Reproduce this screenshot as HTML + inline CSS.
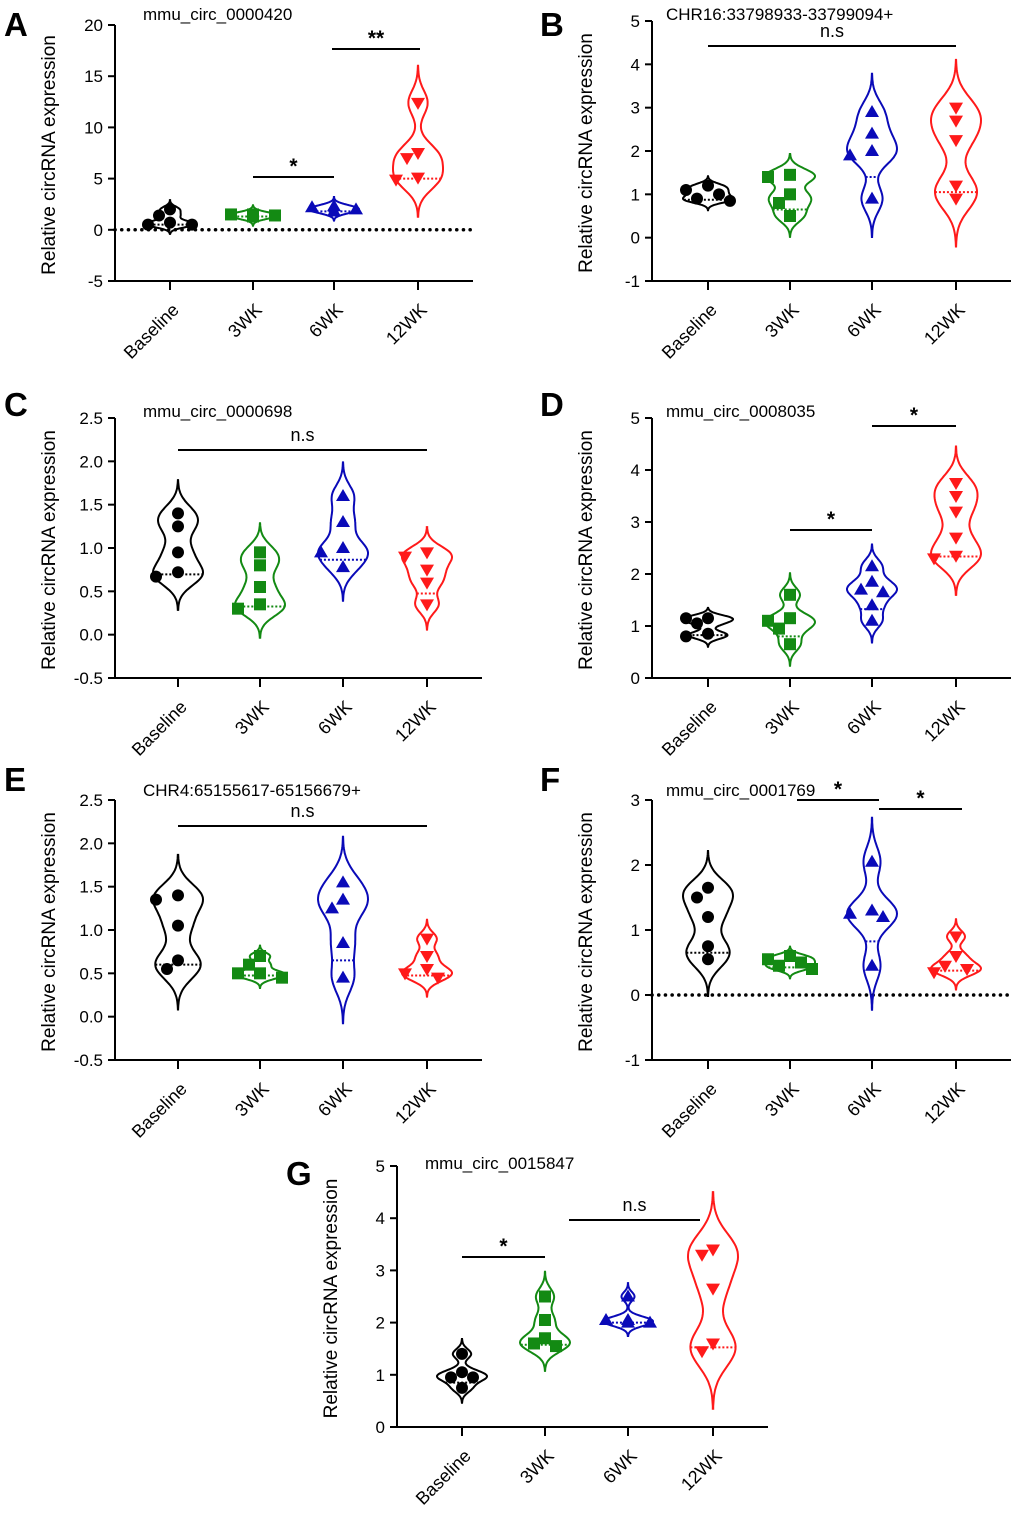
<!DOCTYPE html>
<html><head><meta charset="utf-8"><style>
body{margin:0;background:#fff}
svg text{font-family:"Liberation Sans",Arial,sans-serif}
</style></head><body>
<svg id="fig" width="1020" height="1511" viewBox="0 0 1020 1511" xmlns="http://www.w3.org/2000/svg"></svg>
<script>
const categories=["Baseline","3WK","6WK","12WK"];
const colors=["#000000","#138a13","#0a0ab8","#ff1a1a"];
const markers=["circle","square","up","down"];
const valsA=[[2.0,0.5,1.4,0.5,0.7],[1.3,1.5,1.3,1.4,1.5],[2.0,2.3,1.8,2.2,1.8],[12.4,7.0,7.5,4.9,5.1]];
const valsB=[[1.1,0.85,1.0,1.2,0.9],[1.45,1.0,1.4,0.5,0.8],[2.9,2.4,2.0,1.9,0.9],[3.0,2.7,2.25,1.2,0.9]];
const valsC=[[1.4,1.25,0.95,0.67,0.72],[0.95,0.8,0.55,0.35,0.3],[1.6,1.3,1.0,0.95,0.78],[0.95,0.9,0.75,0.6,0.35]];
const valsD=[[1.15,1.05,0.8,0.85,1.15],[1.6,1.15,0.95,0.65,1.1],[2.15,1.85,1.65,1.4,1.1,1.7],[3.75,3.5,3.2,2.7,2.3,2.35]];
const valsE=[[1.35,1.4,1.05,0.65,0.55],[0.7,0.6,0.5,0.45,0.5],[1.55,1.35,1.25,0.85,0.45],[0.9,0.7,0.55,0.5,0.45]];
const valsF=[[1.65,1.5,1.2,0.75,0.55],[0.6,0.55,0.45,0.4,0.5],[2.05,1.3,1.2,0.45,1.25],[0.9,0.6,0.4,0.35,0.45]];
const valsG=[[1.4,1.05,0.95,0.75,0.95],[2.5,2.05,1.7,1.55,1.6],[2.5,2.05,2.0,2.0,2.05],[3.4,3.3,2.65,1.6,1.45]];
const ticksA=[-5,0,5,10,15,20], ticksB=[-1,0,1,2,3,4,5], ticksC=[-0.5,0.0,0.5,1.0,1.5,2.0,2.5];
const ticksD=[0,1,2,3,4,5], ticksF=[-1,0,1,2,3], ticksG=[0,1,2,3,4,5];
const titles=["mmu_circ_0000420","CHR16:33798933-33799094+","mmu_circ_0000698","mmu_circ_0008035","CHR4:65155617-65156679+","mmu_circ_0001769","mmu_circ_0015847"];

const panels=[
 {L:"A",vals:valsA,ticks:ticksA,dec:0,ax:115,top:25,bot:281,cx:[170,253,334,418],lx:4,ly:36,tx:143,ty:20,zero:true,
  sig:[{a:1,b:2,y:177,t:"*"},{a:2,b:3,y:49,t:"**",x1:332,x2:420}]},
 {L:"B",vals:valsB,ticks:ticksB,dec:0,ax:652,top:21,bot:281,cx:[708,790,872,956],lx:540,ly:36,tx:666,ty:20,
  sig:[{a:0,b:3,y:46,t:"n.s"}]},
 {L:"C",vals:valsC,ticks:ticksC,dec:1,ax:115,top:418,bot:678,cx:[178,260,343,427],lx:4,ly:416,tx:143,ty:417,
  sig:[{a:0,b:3,y:450,t:"n.s"}]},
 {L:"D",vals:valsD,ticks:ticksD,dec:0,ax:652,top:418,bot:678,cx:[708,790,872,956],lx:540,ly:416,tx:666,ty:417,
  sig:[{a:1,b:2,y:530,t:"*"},{a:2,b:3,y:426,t:"*"}]},
 {L:"E",vals:valsE,ticks:ticksC,dec:1,ax:115,top:800,bot:1060,cx:[178,260,343,427],lx:4,ly:791,tx:143,ty:796,
  sig:[{a:0,b:3,y:826,t:"n.s"}]},
 {L:"F",vals:valsF,ticks:ticksF,dec:0,ax:652,top:800,bot:1060,cx:[708,790,872,956],lx:540,ly:791,tx:666,ty:796,zero:true,
  sig:[{a:1,b:2,y:800,t:"*",x1:797,x2:879},{a:2,b:3,y:809,t:"*",x1:879,x2:962}]},
 {L:"G",vals:valsG,ticks:ticksG,dec:0,ax:397,top:1166,bot:1427,cx:[462,545,628,713],lx:286,ly:1185,tx:425,ty:1169,
  sig:[{a:0,b:1,y:1257,t:"*"},{a:1,b:2,y:1220,t:"n.s",x1:569,x2:700}]}
];
const NS="http://www.w3.org/2000/svg";
const svg=document.getElementById("fig");
function mk(tag,attrs,parent){const e=document.createElementNS(NS,tag);for(const k in attrs)e.setAttribute(k,attrs[k]);(parent||svg).appendChild(e);return e;}
function q1(a){const s=[...a].sort((x,y)=>x-y);const n=s.length;const pos=(n+1)/4-1;const lo=Math.max(0,Math.floor(pos)),hi=Math.min(n-1,lo+1);const f=pos-Math.floor(pos);return s[lo]+(s[hi]-s[lo])*f;}

panels.forEach((p,pi)=>{
 const g=mk("g",{});
 
 
 const t0=p.ticks[0],t1=p.ticks[p.ticks.length-1];
 const Y=v=>p.bot-(v-t0)/(t1-t0)*(p.bot-p.top);
 const xEnd=p.cx[3]+55;
 const lt=mk("text",{x:p.lx,y:p.ly,"font-size":33,"font-weight":"bold"},g);lt.textContent=p.L;
 
 
 const tt=mk("text",{x:p.tx,y:p.ty,"font-size":17},g);tt.textContent=titles[pi];
 
 
 const yc=(p.top+p.bot)/2+2, yx=p.ax-60;
 const yt=mk("text",{x:yx,y:yc,"font-size":19,"text-anchor":"middle",transform:`rotate(-90 ${yx} ${yc})`},g);
 yt.textContent="Relative circRNA expression";
 
 
 const ya=mk("line",{x1:p.ax,y1:p.top,x2:p.ax,y2:p.bot,stroke:"#000","stroke-width":2},g);
 
 
 const xa=mk("line",{x1:p.ax,y1:p.bot,x2:xEnd,y2:p.bot,stroke:"#000","stroke-width":2},g);
 
 
 p.ticks.forEach(v=>{
  mk("line",{x1:p.ax-7,y1:Y(v),x2:p.ax,y2:Y(v),stroke:"#000","stroke-width":2},g);
  const tl=mk("text",{x:p.ax-12,y:Y(v)+6,"font-size":17,"text-anchor":"end"},g);
  tl.textContent=v.toFixed(p.dec);
  
  
 });
 categories.forEach((c,i)=>{
  const x=p.cx[i];
  mk("line",{x1:x,y1:p.bot,x2:x,y2:p.bot+9,stroke:"#000","stroke-width":2},g);
  const lx=x+10,ly=p.bot+30;
  const cl=mk("text",{x:lx,y:ly,"font-size":18,"text-anchor":"end",transform:`rotate(-45 ${lx} ${ly})`},g);
  cl.textContent=c;
  
  
 });
 if(p.zero){
  const zl=mk("line",{x1:p.ax,y1:Y(0),x2:xEnd,y2:Y(0),stroke:"#000","stroke-width":3.5,"stroke-dasharray":"0.1 6.6","stroke-linecap":"round"},g);
  
  
 }
 p.vals.forEach((vals,i)=>{
  const col=colors[i],cx=p.cx[i],n=vals.length;
  const mean=vals.reduce((a,b)=>a+b,0)/n;
  const sd=Math.sqrt(vals.reduce((a,b)=>a+(b-mean)**2,0)/(n-1))||0.1;
  const h=Math.max(0.55*sd*Math.pow(n,-0.2),(t1-t0)*0.012);
  const lo=Math.min(...vals)-3*h,hi=Math.max(...vals)+3*h;
  const pts=[];let mx=0;
  for(let k=0;k<=80;k++){const v=lo+(hi-lo)*k/80;let d=0;vals.forEach(x=>d+=Math.exp(-0.5*((v-x)/h)**2));pts.push([v,d]);mx=Math.max(mx,d);}
  const W=25;
  let dstr="";
  pts.forEach(([v,d],k)=>{dstr+=(k?"L":"M")+(cx+d/mx*W).toFixed(1)+","+Y(v).toFixed(1);});
  for(let k=pts.length-1;k>=0;k--){const [v,d]=pts[k];dstr+="L"+(cx-d/mx*W).toFixed(1)+","+Y(v).toFixed(1);}
  const vp=mk("path",{d:dstr+"Z",fill:"none",stroke:col,"stroke-width":2},g);
  
  
  const md=q1(vals);let dm=0;vals.forEach(x=>dm+=Math.exp(-0.5*((md-x)/h)**2));
  const mw=dm/mx*W;
  const ml=mk("line",{x1:cx-mw,y1:Y(md),x2:cx+mw,y2:Y(md),stroke:col,"stroke-width":2,"stroke-dasharray":"2 2"},g);
  
  
  // beeswarm-ish placement
  const placed=[];
  const order=vals.map((v,j)=>j).sort((a,b)=>vals[b]-vals[a]);
  order.forEach(j=>{
   const y=Y(vals[j]);
   const cands=[0,-11,11,-22,22,-33,33];
   let x=cx;
   for(const o of cands){const xx=cx+o;if(placed.every(q=>Math.hypot(q[0]-xx,q[1]-y)>=12)){x=xx;break;}}
   placed.push([x,y]);
   let m;
   if(markers[i]=="circle")m=mk("circle",{cx:x,cy:y,r:6,fill:col},g);
   else if(markers[i]=="square")m=mk("rect",{x:x-6,y:y-6,width:12,height:12,fill:col},g);
   else if(markers[i]=="up")m=mk("polygon",{points:`${x},${y-7} ${x-7},${y+5} ${x+7},${y+5}`,fill:col},g);
   else m=mk("polygon",{points:`${x},${y+7} ${x-7},${y-5} ${x+7},${y-5}`,fill:col},g);
   
   
  });
 });
 p.sig.forEach(s=>{
  const x1=s.x1||p.cx[s.a],x2=s.x2||p.cx[s.b];
  const sl=mk("line",{x1:x1,y1:s.y,x2:x2,y2:s.y,stroke:"#000","stroke-width":2},g);
  
  
  const st=mk("text",{x:(x1+x2)/2,y:s.t=="n.s"?s.y-9:s.y-4,"font-size":s.t=="n.s"?18:21,"font-weight":s.t=="n.s"?"normal":"bold","text-anchor":"middle"},g);
  st.textContent=s.t;
  
  
 });
});
</script>
</body></html>
